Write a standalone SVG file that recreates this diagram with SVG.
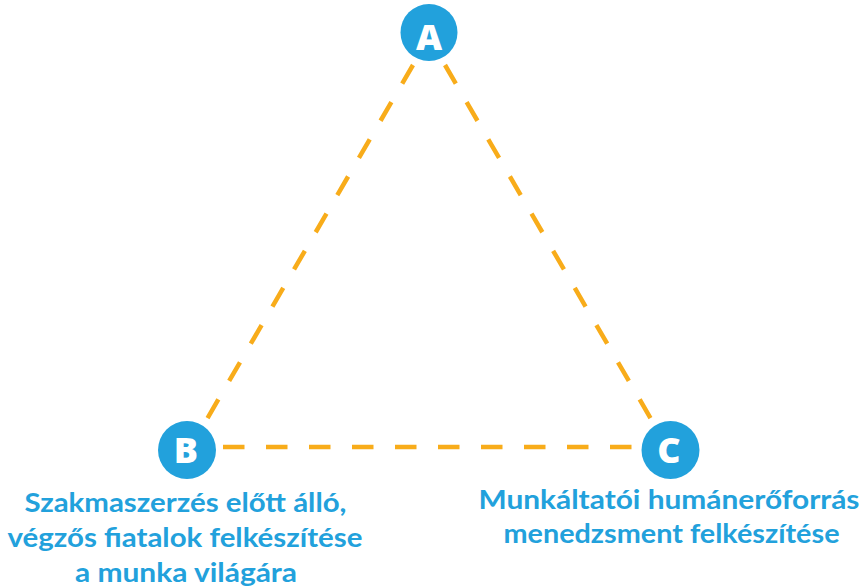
<svg xmlns="http://www.w3.org/2000/svg" width="865" height="588" viewBox="0 0 865 588">
<style>
.edge{stroke:#F8AC1A;stroke-width:4.5;fill:none;stroke-dasharray:21.5 21.5}
.node circle{fill:#22A1DC}
.letter{font-family:"Open Sans","DejaVu Sans",sans-serif;font-weight:800;font-size:36px;fill:#ffffff;text-anchor:middle}
.label{font-family:Lato,"Open Sans",sans-serif;font-weight:700;font-size:27px;fill:#22A1DC;text-anchor:middle}
</style>
<rect width="865" height="588" fill="#ffffff"/>
<g id="connectors">
<line class="edge" x1="413" y1="65" x2="207" y2="419"/>
<line class="edge" x1="445" y1="65" x2="651" y2="419"/>
<line class="edge" x1="223" y1="447" x2="633" y2="447"/>
</g>
<g id="node-A" class="node">
<circle cx="429" cy="32.5" r="28.5"/>
<text class="letter" x="429" y="50">A</text>
</g>
<g id="node-B" class="node">
<circle cx="187" cy="450" r="29"/>
<text class="letter" x="186" y="463">B</text>
<text class="label" x="185.5" y="512" textLength="322" lengthAdjust="spacingAndGlyphs">Szakmaszerzés előtt álló,</text>
<text class="label" x="185" y="547" textLength="355" lengthAdjust="spacingAndGlyphs">végzős fiatalok felkészítése</text>
<text class="label" x="186" y="582" textLength="222" lengthAdjust="spacingAndGlyphs">a munka világára</text>
</g>
<g id="node-C" class="node">
<circle cx="670.5" cy="450" r="29"/>
<text class="letter" x="669" y="463">C</text>
<text class="label" x="669" y="509" textLength="381" lengthAdjust="spacingAndGlyphs">Munkáltatói humánerőforrás</text>
<text class="label" x="671.5" y="543" textLength="336" lengthAdjust="spacingAndGlyphs">menedzsment felkészítése</text>
</g>
</svg>
